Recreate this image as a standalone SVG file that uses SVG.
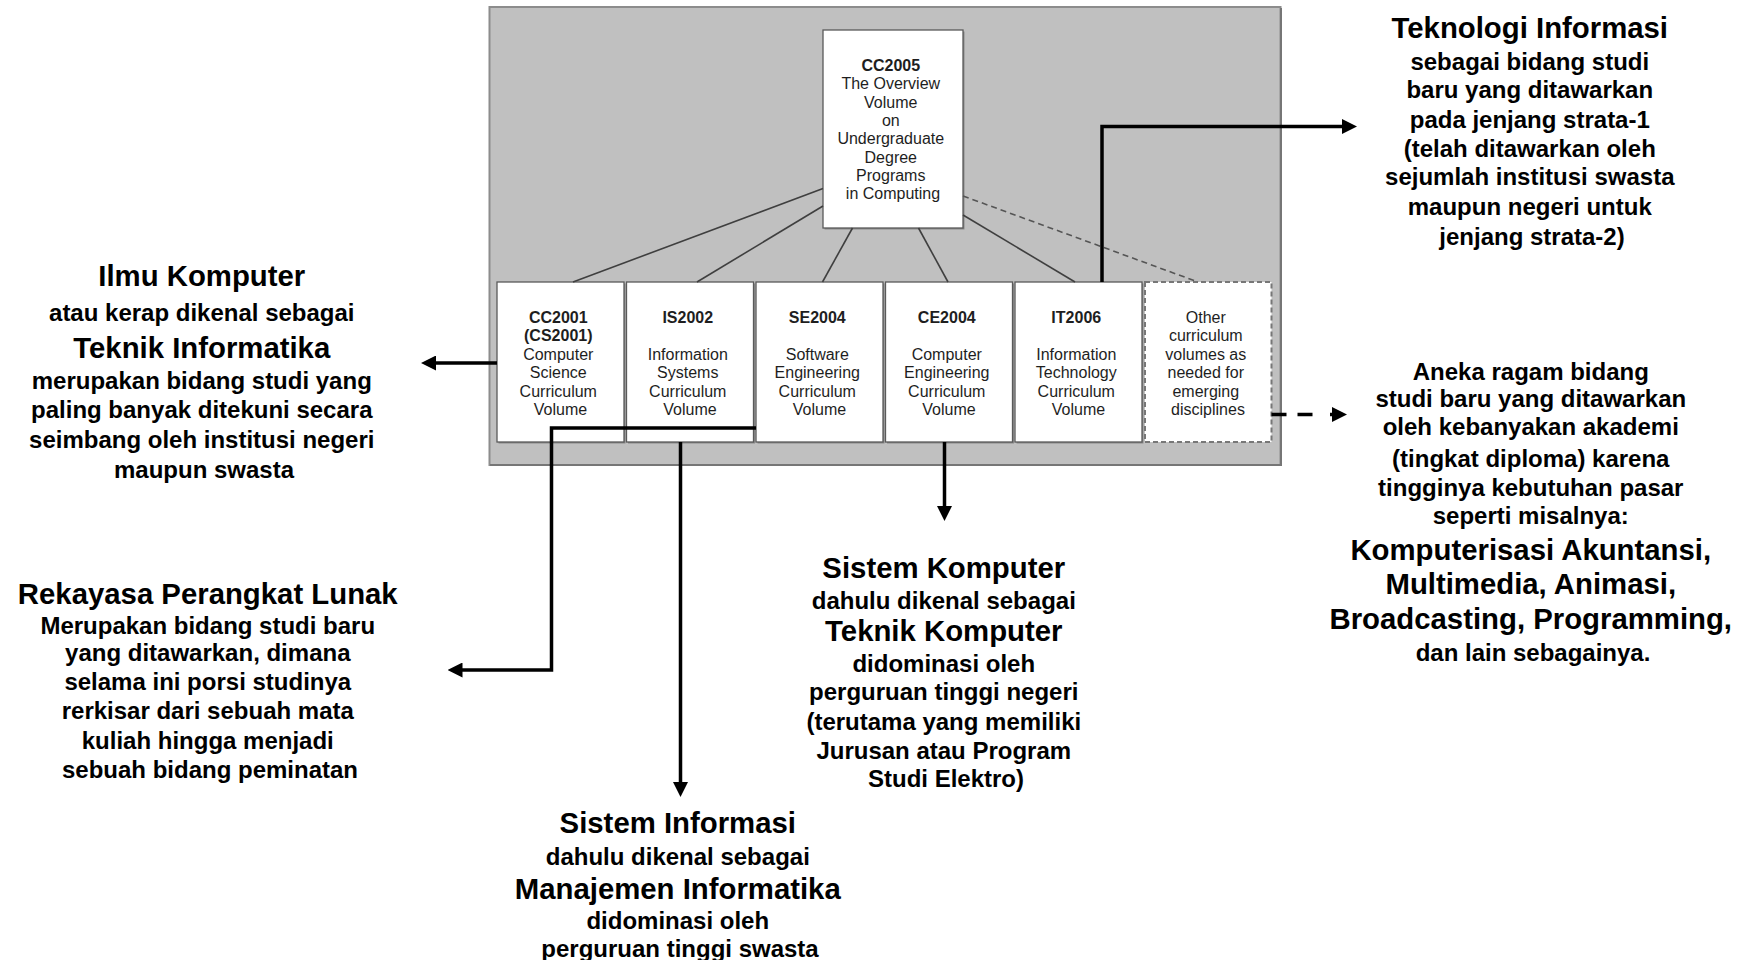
<svg xmlns="http://www.w3.org/2000/svg" width="1747" height="960" viewBox="0 0 1747 960">
  <defs>
    <style>
      .panel { fill: #c0c0c0; stroke: #8c8c8c; stroke-width: 2; }
      .panel-shade { fill: none; stroke: #767676; stroke-width: 2; }
      .box { fill: #ffffff; stroke: #5a5a5a; stroke-width: 1.3; }
      .box-shade { fill: #8a8a8a; }
      .box-dash { fill: #ffffff; stroke: #777777; stroke-width: 2; stroke-dasharray: 5 3; }
      .btxt { font-family: 'Liberation Sans', Arial, sans-serif; font-size: 16px; fill: #1e1e1e; text-anchor: middle; }
      .btxt .b { font-weight: bold; }
      .tree { stroke: #3f3f3f; stroke-width: 1.6; fill: none; }
      .tree-dash { stroke: #555555; stroke-width: 1.6; fill: none; stroke-dasharray: 6 4; }
      .lead { stroke: #000000; stroke-width: 3.5; fill: none; }
      .lead-dash { stroke: #000000; stroke-width: 3.5; fill: none; stroke-dasharray: 15 11; }
      .note { font-family: 'Liberation Sans', Arial, sans-serif; font-weight: bold; fill: #000000; text-anchor: middle; }
      .hd { font-size: 29.33px; }
      .sm { font-size: 24px; }
    </style>
    <marker id="arrow" viewBox="0 0 15 15" refX="2" refY="7.5" markerWidth="15" markerHeight="15" markerUnits="userSpaceOnUse" orient="auto">
      <path d="M0,0 L15,7.5 L0,15 z" fill="#000000"/>
    </marker>
  </defs>

  <!-- grey backdrop holding the curriculum volumes -->
  <g id="panel">
    <rect class="panel" x="489.5" y="7" width="791" height="458"/>
    <path class="panel-shade" d="M1281,8 V465 H490"/>
  </g>

  <!-- overview volume -->
  <g id="cc2005">
    <rect class="box-shade" x="824.5" y="31.5" width="140" height="198"/>
    <rect class="box" x="823" y="30" width="140" height="198"/>
    <text class="btxt">
      <tspan class="b" x="893" y="71">CC2005</tspan>
      <tspan x="893" y="89.3">The Overview</tspan>
      <tspan x="893" y="107.6">Volume</tspan>
      <tspan x="893" y="125.9">on</tspan>
      <tspan x="893" y="144.2">Undergraduate</tspan>
      <tspan x="893" y="162.5">Degree</tspan>
      <tspan x="893" y="180.8">Programs</tspan>
      <tspan x="893" y="199.1">in Computing</tspan>
    </text>
  </g>

  <!-- discipline volumes -->
  <g id="cc2001">
    <rect class="box-shade" x="498.5" y="283.5" width="127" height="160"/>
    <rect class="box" x="497" y="282" width="127" height="160"/>
    <text class="btxt">
      <tspan class="b" x="560.5" y="322.5">CC2001</tspan>
      <tspan class="b" x="560.5" y="341">(CS2001)</tspan>
      <tspan x="560.5" y="359.5">Computer</tspan>
      <tspan x="560.5" y="378">Science</tspan>
      <tspan x="560.5" y="396.5">Curriculum</tspan>
      <tspan x="560.5" y="415">Volume</tspan>
    </text>
  </g>

  <g id="is2002">
    <rect class="box-shade" x="628" y="283.5" width="127" height="160"/>
    <rect class="box" x="626.5" y="282" width="127" height="160"/>
    <text class="btxt">
      <tspan class="b" x="690" y="322.5">IS2002</tspan>
      <tspan x="690" y="359.5">Information</tspan>
      <tspan x="690" y="378">Systems</tspan>
      <tspan x="690" y="396.5">Curriculum</tspan>
      <tspan x="690" y="415">Volume</tspan>
    </text>
  </g>

  <g id="se2004">
    <rect class="box-shade" x="757.5" y="283.5" width="127" height="160"/>
    <rect class="box" x="756" y="282" width="127" height="160"/>
    <text class="btxt">
      <tspan class="b" x="819.5" y="322.5">SE2004</tspan>
      <tspan x="819.5" y="359.5">Software</tspan>
      <tspan x="819.5" y="378">Engineering</tspan>
      <tspan x="819.5" y="396.5">Curriculum</tspan>
      <tspan x="819.5" y="415">Volume</tspan>
    </text>
  </g>

  <g id="ce2004">
    <rect class="box-shade" x="887" y="283.5" width="127" height="160"/>
    <rect class="box" x="885.5" y="282" width="127" height="160"/>
    <text class="btxt">
      <tspan class="b" x="949" y="322.5">CE2004</tspan>
      <tspan x="949" y="359.5">Computer</tspan>
      <tspan x="949" y="378">Engineering</tspan>
      <tspan x="949" y="396.5">Curriculum</tspan>
      <tspan x="949" y="415">Volume</tspan>
    </text>
  </g>

  <g id="it2006">
    <rect class="box-shade" x="1016.5" y="283.5" width="127" height="160"/>
    <rect class="box" x="1015" y="282" width="127" height="160"/>
    <text class="btxt">
      <tspan class="b" x="1078.5" y="322.5">IT2006</tspan>
      <tspan x="1078.5" y="359.5">Information</tspan>
      <tspan x="1078.5" y="378">Technology</tspan>
      <tspan x="1078.5" y="396.5">Curriculum</tspan>
      <tspan x="1078.5" y="415">Volume</tspan>
    </text>
  </g>

  <g id="other">
    <rect class="box-dash" x="1145" y="282" width="126.5" height="160"/>
    <text class="btxt">
      <tspan x="1208" y="322.5">Other</tspan>
      <tspan x="1208" y="341">curriculum</tspan>
      <tspan x="1208" y="359.5">volumes as</tspan>
      <tspan x="1208" y="378">needed for</tspan>
      <tspan x="1208" y="396.5">emerging</tspan>
      <tspan x="1208" y="415">disciplines</tspan>
    </text>
  </g>

  <!-- connectors -->
  <g id="connectors">
    <path class="tree" d="M823,188.5 L573,282"/>
    <path class="tree" d="M823,206 L697,282"/>
    <path class="tree" d="M852.5,228 L822.5,282"/>
    <path class="tree" d="M918.5,228 L948,282"/>
    <path class="tree" d="M963,215 L1075,282"/>
    <path class="tree-dash" d="M963,196 L1198,282"/>

    <path class="lead" d="M497,363 H434" marker-end="url(#arrow)"/>
    <path class="lead" d="M1102,282 V126.5 H1344" marker-end="url(#arrow)"/>
    <path class="lead-dash" d="M1271.5,414.5 H1313"/>
    <path class="lead" d="M1330,414.5 H1334" marker-end="url(#arrow)"/>
    <path class="lead" d="M756,428 H551.5 V670 H460.5" marker-end="url(#arrow)"/>
    <path class="lead" d="M680.5,442 V784" marker-end="url(#arrow)"/>
    <path class="lead" d="M944.5,442 V508" marker-end="url(#arrow)"/>
  </g>

  <!-- descriptions of each study programme -->
  <g id="note-ilmu-komputer">
    <text class="note">
      <tspan class="hd" x="204" y="286">Ilmu Komputer</tspan>
      <tspan class="sm" x="204" y="321">atau kerap dikenal sebagai</tspan>
      <tspan class="hd" x="204" y="358">Teknik Informatika</tspan>
      <tspan class="sm" x="204" y="388.5">merupakan bidang studi yang</tspan>
      <tspan class="sm" x="204" y="417.5">paling banyak ditekuni secara</tspan>
      <tspan class="sm" x="204" y="447.5">seimbang oleh institusi negeri</tspan>
      <tspan class="sm" x="204" y="477.5">maupun swasta</tspan>
    </text>
  </g>

  <g id="note-rpl">
    <text class="note">
      <tspan class="hd" x="210" y="604">Rekayasa Perangkat Lunak</tspan>
      <tspan class="sm" x="210" y="633.5">Merupakan bidang studi baru</tspan>
      <tspan class="sm" x="210" y="661">yang ditawarkan, dimana</tspan>
      <tspan class="sm" x="210" y="690">selama ini porsi studinya</tspan>
      <tspan class="sm" x="210" y="719">rerkisar dari sebuah mata</tspan>
      <tspan class="sm" x="210" y="748.5">kuliah hingga menjadi</tspan>
      <tspan class="sm" x="210" y="778">sebuah bidang peminatan</tspan>
    </text>
  </g>

  <g id="note-teknologi-informasi">
    <text class="note">
      <tspan class="hd" x="1532" y="38">Teknologi Informasi</tspan>
      <tspan class="sm" x="1532" y="69.5">sebagai bidang studi</tspan>
      <tspan class="sm" x="1532" y="97.5">baru yang ditawarkan</tspan>
      <tspan class="sm" x="1532" y="127.5">pada jenjang strata-1</tspan>
      <tspan class="sm" x="1532" y="156.5">(telah ditawarkan oleh</tspan>
      <tspan class="sm" x="1532" y="184.9">sejumlah institusi swasta</tspan>
      <tspan class="sm" x="1532" y="215">maupun negeri untuk</tspan>
      <tspan class="sm" x="1532" y="245">jenjang strata-2)</tspan>
    </text>
  </g>

  <g id="note-aneka-ragam">
    <text class="note">
      <tspan class="sm" x="1533" y="380">Aneka ragam bidang</tspan>
      <tspan class="sm" x="1533" y="407">studi baru yang ditawarkan</tspan>
      <tspan class="sm" x="1533" y="435">oleh kebanyakan akademi</tspan>
      <tspan class="sm" x="1533" y="467">(tingkat diploma) karena</tspan>
      <tspan class="sm" x="1533" y="496">tingginya kebutuhan pasar</tspan>
      <tspan class="sm" x="1533" y="524">seperti misalnya:</tspan>
      <tspan class="hd" x="1533" y="560">Komputerisasi Akuntansi,</tspan>
      <tspan class="hd" x="1533" y="594">Multimedia, Animasi,</tspan>
      <tspan class="hd" x="1533" y="629">Broadcasting, Programming,</tspan>
      <tspan class="sm" x="1533" y="661">dan lain sebagainya.</tspan>
    </text>
  </g>

  <g id="note-sistem-komputer">
    <text class="note">
      <tspan class="hd" x="946" y="577.5">Sistem Komputer</tspan>
      <tspan class="sm" x="946" y="608.5">dahulu dikenal sebagai</tspan>
      <tspan class="hd" x="946" y="641">Teknik Komputer</tspan>
      <tspan class="sm" x="946" y="672">didominasi oleh</tspan>
      <tspan class="sm" x="946" y="700">perguruan tinggi negeri</tspan>
      <tspan class="sm" x="946" y="729.5">(terutama yang memiliki</tspan>
      <tspan class="sm" x="946" y="758.5">Jurusan atau Program</tspan>
      <tspan class="sm" x="946" y="786.5">Studi Elektro)</tspan>
    </text>
  </g>

  <g id="note-sistem-informasi">
    <text class="note">
      <tspan class="hd" x="680" y="833">Sistem Informasi</tspan>
      <tspan class="sm" x="680" y="864.5">dahulu dikenal sebagai</tspan>
      <tspan class="hd" x="680" y="898.5">Manajemen Informatika</tspan>
      <tspan class="sm" x="680" y="928.5">didominasi oleh</tspan>
      <tspan class="sm" x="680" y="957">perguruan tinggi swasta</tspan>
    </text>
  </g>
</svg>
